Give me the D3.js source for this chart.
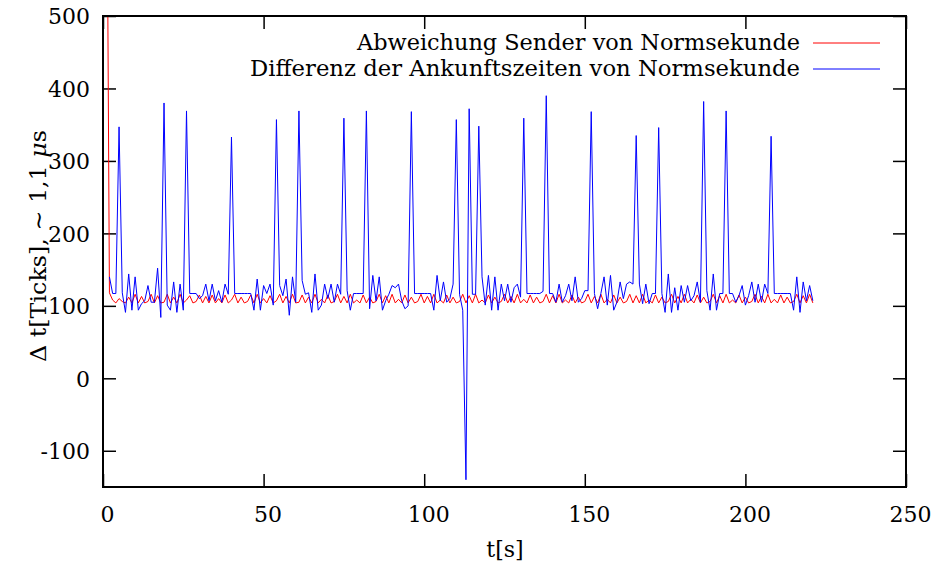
<!DOCTYPE html>
<html>
<head>
<meta charset="utf-8">
<script src="https://cdn.jsdelivr.net/npm/d3@7"></script>
<style>
  html, body { margin: 0; padding: 0; background: #fff; }
</style>
</head>
<body>
<div id="chart"></div>
<script>
// tick values of both axes
const xTicks = [0, 50, 100, 150, 200, 250];
const yTicks = [-100, 0, 100, 200, 300, 400, 500];

// legend texts
const seriesNames = [
  'Abweichung Sender von Normsekunde',
  'Differenz der Ankunftszeiten von Normsekunde',
];
const seriesColors = ['#ff0000', '#0000ff'];

// first sample time (s) of each series, one sample per second
const redStart = 1;
const blueStart = 2;

// Abweichung Sender von Normsekunde [Ticks]
const redValues = [900,
  118, 108, 104, 110, 106, 104, 112, 104, 116, 104,
  113, 104, 106, 116, 104, 114, 104, 105, 116, 104,
  112, 104, 116, 104, 108, 114, 104, 106, 115, 104,
  113, 104, 115, 104, 110, 104, 115, 104, 108, 116,
  104, 112, 104, 106, 115, 104, 116, 104, 110, 104,
  114, 104, 107, 116, 104, 113, 104, 116, 104, 105,
  115, 104, 112, 104, 116, 104, 109, 104, 115, 104,
  106, 116, 104, 113, 104, 116, 104, 108, 104, 115,
  104, 112, 104, 106, 116, 104, 114, 104, 116, 104,
  109, 104, 115, 104, 112, 104, 106, 116, 104, 113,
  104, 116, 104, 108, 104, 115, 104, 112, 104, 106,
  116, 104, 114, 104, 116, 104, 108, 104, 115, 104,
  112, 104, 106, 116, 104, 113, 104, 116, 104, 109,
  104, 115, 104, 112, 104, 106, 116, 104, 114, 104,
  116, 104, 108, 104, 115, 104, 112, 104, 106, 116,
  104, 113, 104, 116, 104, 109, 104, 115, 104, 112,
  104, 106, 116, 104, 114, 104, 116, 104, 108, 104,
  115, 104, 112, 104, 106, 116, 104, 113, 104, 116,
  104, 109, 104, 115, 104, 112, 104, 106, 116, 104,
  114, 104, 116, 104, 108, 104, 115, 104, 112, 104,
  106, 116, 104, 113, 104, 116, 104, 109, 104, 115,
  104, 112, 104, 106, 116, 104, 114, 104, 116, 104];

// Differenz der Ankunftszeiten von Normsekunde [Ticks]
const blueValues = [
  140, 117, 117, 347, 118, 91, 144, 94, 140, 94,
  103, 107, 128, 105, 105, 152, 84, 380, 101, 94,
  133, 91, 130, 94, 369, 117, 117, 117, 110, 114,
  130, 107, 130, 107, 121, 105, 130, 116, 333, 117,
  117, 117, 117, 117, 117, 94, 137, 94, 128, 117,
  130, 101, 357, 128, 114, 137, 87, 140, 105, 369,
  135, 116, 118, 91, 144, 94, 101, 130, 110, 130,
  105, 130, 116, 359, 121, 94, 117, 117, 117, 117,
  369, 96, 142, 107, 140, 94, 107, 116, 128, 125,
  130, 107, 96, 100, 368, 117, 117, 117, 117, 117,
  117, 94, 142, 107, 133, 105, 110, 130, 357, 116,
  94, -140, 372, 116, 116, 348, 140, 101, 142, 94,
  140, 94, 130, 107, 130, 105, 125, 130, 112, 359,
  117, 117, 117, 117, 117, 120, 390, 117, 117, 105,
  130, 105, 114, 130, 107, 140, 105, 110, 121, 121,
  368, 117, 96, 117, 140, 101, 142, 94, 105, 133,
  110, 130, 133, 130, 335, 130, 103, 130, 103, 117,
  117, 346, 117, 91, 144, 91, 125, 94, 128, 105,
  128, 107, 114, 133, 105, 382, 121, 94, 144, 94,
  117, 117, 369, 117, 117, 105, 114, 128, 101, 114,
  133, 105, 130, 105, 130, 117, 334, 117, 117, 117,
  117, 117, 117, 94, 140, 91, 133, 107, 128, 107];

const WIDTH = 933;
const HEIGHT = 570;
const margins = { left: 103, right: 27, top: 16, bottom: 83 };
const plotW = WIDTH - margins.left - margins.right;
const plotH = HEIGHT - margins.top - margins.bottom;
const FONT = 'DejaVu Serif';
const FONT_SIZE = 22;
const TICK_LEN = 13;

const svg = d3.select('#chart').append('svg')
  .attr('width', WIDTH)
  .attr('height', HEIGHT)
  .attr('font-family', FONT);

const x = d3.scaleLinear().domain([0, 250]).range([0, plotW]);
const y = d3.scaleLinear().domain([-150, 500]).range([plotH, 0]);

const g = svg.append('g')
  .attr('transform', `translate(${margins.left}, ${margins.top})`);

g.append('clipPath').attr('id', 'plot-clip')
  .append('rect').attr('width', plotW).attr('height', plotH);

// plain hyphen for negatives, like the original
const plainFormat = (d) => String(d);

/*
* styleAxis - gnuplot look: no domain path, black ticks, serif labels
*/
function styleAxis(sel) {
  sel.attr('font-family', FONT).attr('font-size', FONT_SIZE);
  sel.select('.domain').remove();
  sel.selectAll('.tick line').attr('stroke', '#000').attr('stroke-width', 1.5);
  sel.selectAll('.tick text').attr('fill', '#000');
}

// bottom axis, labels below (ticks point inward)
g.append('g')
  .attr('transform', `translate(0, ${plotH})`)
  .call(d3.axisBottom(x).tickValues(xTicks).tickFormat(plainFormat)
    .tickSizeInner(-TICK_LEN).tickSizeOuter(0).tickPadding(35))
  .call(styleAxis)
  .call((sel) => sel.selectAll('.tick text').attr('dx', 4).attr('dy', 0));

// top mirror ticks
g.append('g')
  .call(d3.axisTop(x).tickValues(xTicks).tickSizeInner(-TICK_LEN).tickSizeOuter(0).tickFormat(''))
  .call(styleAxis);

// left axis, labels left
g.append('g')
  .call(d3.axisLeft(y).tickValues(yTicks).tickFormat(plainFormat)
    .tickSizeInner(-TICK_LEN).tickSizeOuter(0).tickPadding(13))
  .call(styleAxis)
  .call((sel) => sel.selectAll('.tick text').attr('dy', '0.36em'));

// right mirror ticks
g.append('g')
  .attr('transform', `translate(${plotW}, 0)`)
  .call(d3.axisRight(y).tickValues(yTicks).tickSizeInner(-TICK_LEN).tickSizeOuter(0).tickFormat(''))
  .call(styleAxis);

// data lines
const series = [
  { values: redValues, start: redStart },
  { values: blueValues, start: blueStart },
];
const line = d3.line().x((d) => x(d.t)).y((d) => y(d.v));

const lines = g.append('g').attr('clip-path', 'url(#plot-clip)');
series.forEach((s, i) => {
  const pts = s.values.map((v, k) => ({ t: s.start + k, v }));
  lines.append('path')
    .datum(pts)
    .attr('fill', 'none')
    .attr('stroke', seriesColors[i])
    .attr('stroke-width', 1)
    .attr('d', line);
});

// legend, top right inside the frame
const legendTextRight = 800 - margins.left;
const legendWidths = [443, 550];
const legend = g.append('g').attr('class', 'legend');
seriesNames.forEach((name, i) => {
  const baseline = 34 + i * 26;
  legend.append('text')
    .attr('x', legendTextRight)
    .attr('y', baseline)
    .attr('text-anchor', 'end')
    .attr('font-size', FONT_SIZE)
    .attr('textLength', legendWidths[i])
    .attr('lengthAdjust', 'spacingAndGlyphs')
    .text(name);
  legend.append('line')
    .attr('x1', 813 - margins.left)
    .attr('x2', 880 - margins.left)
    .attr('y1', baseline - 7)
    .attr('y2', baseline - 7)
    .attr('stroke', seriesColors[i])
    .attr('stroke-width', 1);
});

// frame
g.append('rect')
  .attr('width', plotW)
  .attr('height', plotH)
  .attr('fill', 'none')
  .attr('stroke', '#000')
  .attr('stroke-width', 2);

// axis titles
svg.append('text')
  .attr('x', 505)
  .attr('y', 557)
  .attr('text-anchor', 'middle')
  .attr('font-size', FONT_SIZE)
  .text('t[s]');

const yTitle = svg.append('text')
  .attr('transform', 'translate(46, 246) rotate(-90)')
  .attr('text-anchor', 'middle')
  .attr('font-size', FONT_SIZE)
  .attr('textLength', 232)
  .attr('lengthAdjust', 'spacingAndGlyphs');
yTitle.append('tspan').text('\u0394 t[Ticks], \u223C 1,1 ');
yTitle.append('tspan').attr('font-style', 'italic').text('\u03BC');
yTitle.append('tspan').text('s');
</script>
</body>
</html>
